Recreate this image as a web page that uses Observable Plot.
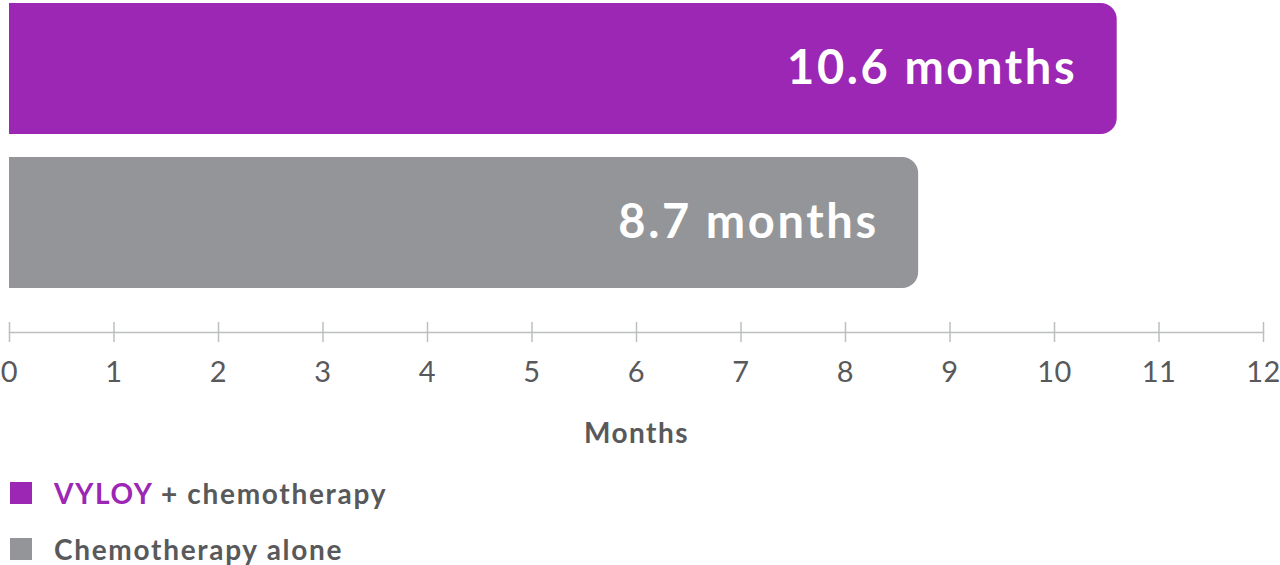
<!DOCTYPE html>
<html>
<head>
<meta charset="utf-8">
<script src="https://cdn.jsdelivr.net/npm/d3@7"></script>
<script src="https://cdn.jsdelivr.net/npm/@observablehq/plot@0.6"></script>
<style>
  html, body { margin: 0; padding: 0; background: #fff; }
  body { width: 1280px; height: 565px; overflow: hidden; font-family: Lato, "Open Sans", sans-serif; }
  #chart svg { display: block; }
  #chart svg .barlabel text { letter-spacing: 2.6px; }
  #chart svg .axistitle text { letter-spacing: 1.5px; }
  #chart svg .ticklabels text { letter-spacing: 0.5px; }
  .legend { padding-top: 17px; }
  .legend .row { display: flex; align-items: center; height: 22px; margin-bottom: 34px; padding-left: 10px; }
  .legend .sw { width: 22px; height: 22px; margin-right: 22px; flex: none; }
  .legend .lbl { font-size: 28px; font-weight: 700; color: #58595b; white-space: nowrap; letter-spacing: 1.7px; }
</style>
</head>
<body>
<div id="chart"></div>
<div class="legend" id="legend"></div>
<script>
const groups = ["VYLOY + chemotherapy", "Chemotherapy alone"];
const months = [10.6, 8.7];
const barLabels = ["10.6 months", "8.7 months"];
const xTicks = [0, 1, 2, 3, 4, 5, 6, 7, 8, 9, 10, 11, 12];
const axisTitle = ["Months"];
const colors = ["#9b27b4", "#939598"];
const legendBrand = ["VYLOY", null];
const legendRest = [" + chemotherapy", "Chemotherapy alone"];

const data = groups.map((g, i) => ({group: g, months: months[i], label: barLabels[i]}));

const axisColor = "#bcbec0";
const textColor = "#58595b";

const chart = Plot.plot({
  width: 1280,
  height: 465,
  marginLeft: 9,
  marginRight: 17,
  marginTop: 3,
  marginBottom: 133,
  style: {fontFamily: "Lato, 'Open Sans', sans-serif", background: "#fff"},
  x: {domain: [0, 12]},
  y: {domain: groups, range: [3, 288], paddingInner: 0.15, paddingOuter: 0, axis: null},
  color: {domain: groups, range: colors},
  marks: [
    Plot.barX(data, {x1: 0, x2: "months", y: "group", fill: "group", rx: 16}),
    Plot.barX(data, {x1: 0, x2: d => d.months / 2, y: "group", fill: "group"}),
    Plot.text(data, {
      x: "months", y: "group", text: "label", textAnchor: "end", dx: -40,
      fill: "white", fontSize: 47, fontWeight: 700, className: "barlabel"
    }),
    Plot.frame({anchor: "bottom", stroke: axisColor, strokeWidth: 1.5}),
    Plot.tickX(xTicks, {x: d => d, stroke: axisColor, strokeWidth: 1.5, insetTop: 319, insetBottom: -10}),
    Plot.axisX(xTicks, {
      tickSize: 0, tickPadding: 29, fontSize: 29, fill: textColor, label: null,
      tickFormat: d => String(d), className: "ticklabels"
    }),
    Plot.text(axisTitle, {
      frameAnchor: "bottom", dy: 110, text: d => d, fontSize: 28, fontWeight: 700, fill: textColor,
      className: "axistitle"
    })
  ]
});
document.getElementById("chart").appendChild(chart);

const legend = document.getElementById("legend");
groups.forEach((g, i) => {
  const row = document.createElement("div");
  row.className = "row";
  const sw = document.createElement("div");
  sw.className = "sw";
  sw.style.background = colors[i];
  const lbl = document.createElement("div");
  lbl.className = "lbl";
  if (legendBrand[i]) {
    const b = document.createElement("span");
    b.style.color = colors[0];
    b.textContent = legendBrand[i];
    lbl.appendChild(b);
  }
  lbl.appendChild(document.createTextNode(legendRest[i]));
  row.appendChild(sw);
  row.appendChild(lbl);
  legend.appendChild(row);
});
</script>
</body>
</html>
